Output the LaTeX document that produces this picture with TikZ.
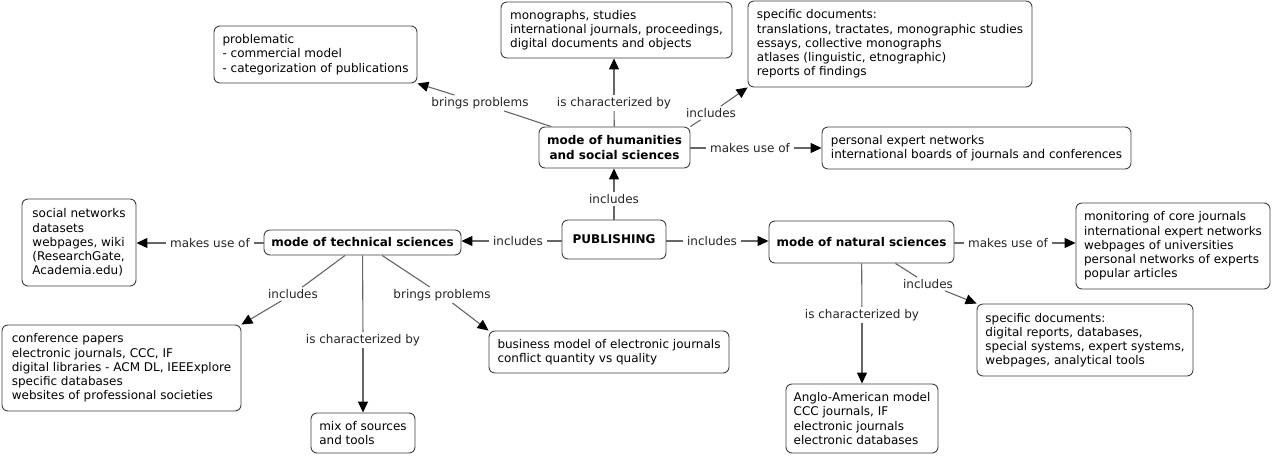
\documentclass[tikz,border=0pt]{standalone}
\usepackage{fontspec}
\setmainfont{DejaVu Sans}
\usetikzlibrary{arrows.meta}
\begin{document}
\begin{tikzpicture}[x=1pt,y=-1pt,
  box/.style={draw=black!75, line width=0.9pt, rounded corners=6pt, fill=white, align=left, inner sep=0pt, font=\fontsize{12}{14.2}\selectfont},
  mainbox/.style={box, align=center, font=\fontsize{12}{14.2}\selectfont\bfseries},
  lbl/.style={inner xsep=4pt, inner ysep=2pt, font=\fontsize{12}{14}\selectfont, text=black!85},
  ln/.style={draw=black!60, line width=1.1pt},
  arr/.style={ln, -{Triangle[length=11pt,width=10pt,color=black]}}
]
\fill[white] (0,0) rectangle (1272,456);
\useasboundingbox (0,0) rectangle (1272,456);

% concepts
\node[box, minimum width=203, minimum height=57] (prob) at (315.5,54.5) {problematic\\- commercial model\\- categorization of publications};
\node[box, minimum width=231, minimum height=56] (mono) at (616.5,30) {monographs, studies\\international journals, proceedings,\\digital documents and objects};
\node[box, minimum width=284, minimum height=86] (spec1) at (890,44) {specific documents:\\translations, tractates, monographic studies\\essays, collective monographs\\atlases (linguistic, etnographic)\\reports of findings};
\node[mainbox, minimum width=151, minimum height=41] (hum) at (614.5,147.5) {mode of humanities\\and social sciences};
\node[box, minimum width=309, minimum height=42] (pen) at (976.5,148) {personal expert networks\\international boards of journals and conferences};
\node[mainbox, minimum width=104, minimum height=39] (pub) at (614,239.5) {PUBLISHING};
\node[mainbox, minimum width=197, minimum height=25] (tech) at (362.5,242.5) {mode of technical sciences};
\node[box, minimum width=114, minimum height=87] (soc) at (79,242.5) {social networks\\datasets\\webpages, wiki\\(ResearchGate,\\Academia.edu)};
\node[mainbox, minimum width=185, minimum height=42] (nat) at (861.5,242) {mode of natural sciences};
\node[box, minimum width=194, minimum height=86] (mon) at (1173,246) {monitoring of core journals\\international expert networks\\webpages of universities\\personal networks of experts\\popular articles};
\node[box, minimum width=239, minimum height=86] (conf) at (121.5,368) {conference papers\\electronic journals, CCC, IF\\digital libraries - ACM DL, IEEExplore\\specific databases\\websites of professional societies};
\node[box, minimum width=104, minimum height=40] (mix) at (363,433) {mix of sources\\and tools};
\node[box, minimum width=240, minimum height=42] (bus) at (609,352) {business model of electronic journals\\conflict quantity vs quality};
\node[box, minimum width=216, minimum height=72] (spec2) at (1085,340) {specific documents:\\digital reports, databases,\\special systems, expert systems,\\webpages, analytical tools};
\node[box, minimum width=152, minimum height=69] (anglo) at (862,418.5) {Anglo-American model\\CCC journals, IF\\electronic journals\\electronic databases};

% linking phrases
\node[lbl] (L1) at (480,103) {brings problems};
\node[lbl] (L2) at (614,103) {is characterized by};
\node[lbl] (L3) at (711,113) {includes};
\node[lbl] (L4) at (750,148) {makes use of};
\node[lbl] (L5) at (614,199) {includes};
\node[lbl] (L6) at (518,241) {includes};
\node[lbl] (L7) at (712,241) {includes};
\node[lbl] (L8) at (210,243) {makes use of};
\node[lbl] (L9) at (293,294) {includes};
\node[lbl] (L10) at (363,340) {is characterized by};
\node[lbl] (L11) at (442,295) {brings problems};
\node[lbl] (L12) at (1008,243) {makes use of};
\node[lbl] (L13) at (928,284) {includes};
\node[lbl] (L14) at (862,315) {is characterized by};

% connectors
\draw[ln] (hum) -- (L1);
\draw[arr] (L1) -- (prob.south east);
\draw[ln] (hum) -- (L2);
\draw[arr] (L2) -- (L2 |- mono.south);
\draw[ln] (hum.north east) -- (L3);
\draw[arr] (L3) -- (spec1.south west);
\draw[ln] (L4 -| hum.east) -- (L4);
\draw[arr] (L4) -- (L4 -| pen.west);
\draw[ln] (pub) -- (L5);
\draw[arr] (L5) -- (L5 |- hum.south);
\draw[ln] (L6 -| pub.west) -- (L6);
\draw[arr] (L6) -- (L6 -| tech.east);
\draw[ln] (L7 -| pub.east) -- (L7);
\draw[arr] (L7) -- (L7 -| nat.west);
\draw[ln] (L8 -| tech.west) -- (L8);
\draw[arr] (L8) -- (L8 -| soc.east);
\draw[ln] (tech) -- (L9);
\draw[arr] (L9) -- (conf.north east);
\draw[ln] (tech) -- (L10);
\draw[arr] (L10) -- (mix);
\draw[ln] (tech) -- (L11);
\draw[arr] (L11) -- (bus.north west);
\draw[ln] (L12 -| nat.east) -- (L12);
\draw[arr] (L12) -- (L12 -| mon.west);
\draw[ln] (nat) -- (L13);
\draw[arr] (L13) -- (spec2.north west);
\draw[ln] (nat) -- (L14);
\draw[arr] (L14) -- (anglo);
\end{tikzpicture}
\end{document}
